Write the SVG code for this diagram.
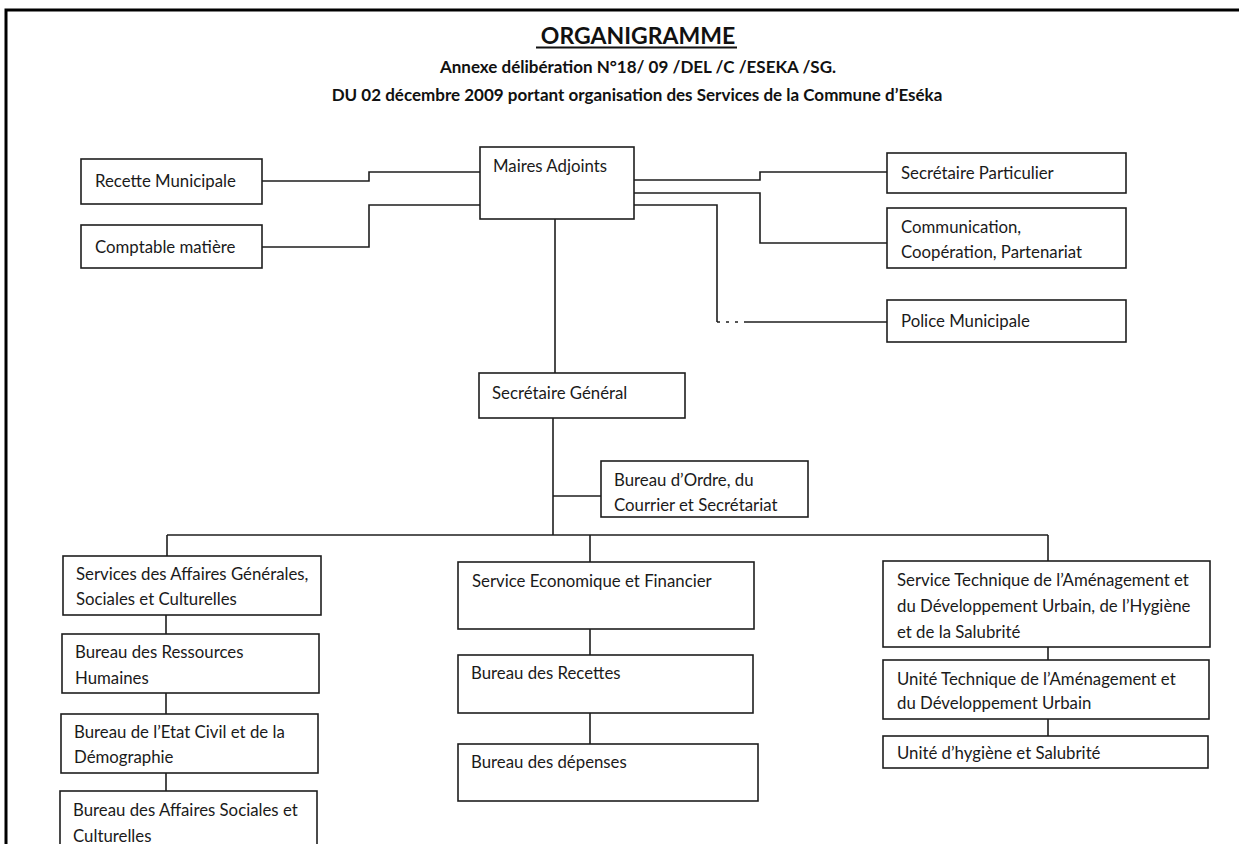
<svg xmlns="http://www.w3.org/2000/svg" width="1239" height="844" viewBox="0 0 1239 844">
<style>
.bg{fill:#fff}
.box{fill:#fff;stroke:#1e1e1e;stroke-width:1.6}
.t{font-family:Lato,"Open Sans","Liberation Sans",sans-serif;font-size:16.8px;fill:#1a1a1a}
.h{font-family:Lato,"Open Sans","Liberation Sans",sans-serif;font-weight:bold;fill:#111;text-anchor:middle}
.c{fill:none;stroke:#1e1e1e;stroke-width:1.6}
.frame{fill:none;stroke:#000;stroke-width:3}
</style>
<rect class="bg" x="0" y="0" width="1239" height="844"/>
<path class="frame" d="M6,846 V10 H1239"/>
<g id="header">
<text class="h" x="638" y="44" font-size="23">ORGANIGRAMME</text>
<line x1="536" y1="47.5" x2="737" y2="47.5" stroke="#111" stroke-width="1.8"/>
<text class="h" x="638" y="73" font-size="17">Annexe délibération N°18/ 09 /DEL /C /ESEKA /SG.</text>
<text class="h" x="637" y="101" font-size="17">DU 02 décembre 2009 portant organisation des Services de la Commune d’Eséka</text>
</g>
<g id="connectors">
<path class="c" d="M262,181 H369 V172 H480"/>
<path class="c" d="M262,247 H369 V205 H480"/>
<path class="c" d="M634,180 H760 V172 H887"/>
<path class="c" d="M634,193 H760 V243 H887"/>
<path class="c" d="M634,205 H717 V322"/>
<path class="c" d="M717,322 H745" stroke-dasharray="3 6"/>
<path class="c" d="M745,322 H887"/>
<path class="c" d="M555,219 V373"/>
<path class="c" d="M553,418 V535"/>
<path class="c" d="M553,496 H601"/>
<path class="c" d="M167,535 H1048"/>
<path class="c" d="M167,535 V556"/>
<path class="c" d="M590,535 V562"/>
<path class="c" d="M1048,535 V561"/>
<path class="c" d="M166,615 V634 M166,693 V714 M166,773 V791"/>
<path class="c" d="M590,629 V655 M590,713 V744"/>
<path class="c" d="M1048,647 V660 M1048,719 V736"/>
</g>
<g id="maires-adjoints"><rect class="box" x="480" y="147" width="154" height="72"/><text class="t" x="493" y="172">Maires Adjoints</text></g>
<g id="recette-municipale"><rect class="box" x="81" y="159" width="181" height="45"/><text class="t" x="95" y="187">Recette Municipale</text></g>
<g id="comptable-matiere"><rect class="box" x="81" y="225" width="181" height="43"/><text class="t" x="95" y="253">Comptable matière</text></g>
<g id="secretaire-particulier"><rect class="box" x="887" y="153" width="239" height="40"/><text class="t" x="901" y="179">Secrétaire Particulier</text></g>
<g id="communication"><rect class="box" x="887" y="208" width="239" height="60"/><text class="t" x="901" y="233">Communication,</text><text class="t" x="901" y="258">Coopération, Partenariat</text></g>
<g id="police-municipale"><rect class="box" x="887" y="300" width="239" height="42"/><text class="t" x="901" y="327">Police Municipale</text></g>
<g id="secretaire-general"><rect class="box" x="479" y="373" width="206" height="45"/><text class="t" x="492" y="399">Secrétaire Général</text></g>
<g id="bureau-ordre"><rect class="box" x="601" y="461" width="207" height="56"/><text class="t" x="614" y="486">Bureau d’Ordre, du</text><text class="t" x="614" y="511">Courrier et Secrétariat</text></g>
<g id="services-affaires-generales"><rect class="box" x="63" y="556" width="258" height="59"/><text class="t" x="76" y="580">Services des Affaires Générales,</text><text class="t" x="76" y="605">Sociales et Culturelles</text></g>
<g id="bureau-rh"><rect class="box" x="62" y="634" width="257" height="59"/><text class="t" x="75" y="658">Bureau des Ressources</text><text class="t" x="75" y="684">Humaines</text></g>
<g id="bureau-etat-civil"><rect class="box" x="61" y="714" width="257" height="59"/><text class="t" x="74" y="738">Bureau de l’Etat Civil et de la</text><text class="t" x="74" y="763">Démographie</text></g>
<g id="bureau-affaires-sociales"><rect class="box" x="60" y="791" width="257" height="70"/><text class="t" x="73" y="816">Bureau des Affaires Sociales et</text><text class="t" x="73" y="842">Culturelles</text></g>
<g id="service-economique"><rect class="box" x="458" y="562" width="296" height="67"/><text class="t" x="472" y="587">Service Economique et Financier</text></g>
<g id="bureau-recettes"><rect class="box" x="458" y="655" width="295" height="58"/><text class="t" x="471" y="679">Bureau des Recettes</text></g>
<g id="bureau-depenses"><rect class="box" x="458" y="744" width="300" height="57"/><text class="t" x="471" y="768">Bureau des dépenses</text></g>
<g id="service-technique"><rect class="box" x="883" y="561" width="327" height="86"/><text class="t" x="897" y="586">Service Technique de l’Aménagement et</text><text class="t" x="897" y="612">du Développement Urbain, de l’Hygiène</text><text class="t" x="897" y="638">et de la Salubrité</text></g>
<g id="unite-technique"><rect class="box" x="883" y="660" width="326" height="59"/><text class="t" x="897" y="685">Unité Technique de l’Aménagement et</text><text class="t" x="897" y="709">du Développement Urbain</text></g>
<g id="unite-hygiene"><rect class="box" x="883" y="736" width="325" height="32"/><text class="t" x="897" y="759">Unité d’hygiène et Salubrité</text></g>
</svg>
